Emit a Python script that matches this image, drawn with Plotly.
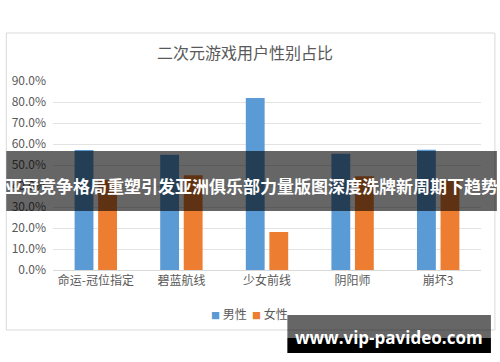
import plotly.graph_objects as go

categories = ["命运-冠位指定", "碧蓝航线", "少女前线", "阴阳师", "崩坏3"]
male = [0.572, 0.549, 0.819, 0.553, 0.573]
female = [0.428, 0.451, 0.181, 0.447, 0.427]
series_names = ["男性", "女性"]
series_colors = ["#5b9bd5", "#ed7d31"]
y_ticks = [0, 0.1, 0.2, 0.3, 0.4, 0.5, 0.6, 0.7, 0.8, 0.9]
title_text = "二次元游戏用户性别占比"
banner_text = "亚冠竞争格局重塑引发亚洲俱乐部力量版图深度洗牌新周期下趋势"
watermark_text = "www.vip-pavideo.com"

W, H = 500, 362
L, R, T, B = 50, 481, 81, 270
FONT = "Noto Sans CJK SC"
GRAY = "#595959"

def px(x):
    return (x - L) / (R - L)

def py(y):
    return (B - y) / (B - T)

fig = go.Figure()
fig.add_trace(go.Bar(x=categories, y=male, name=series_names[0],
                     marker=dict(color=series_colors[0], line=dict(width=0))))
fig.add_trace(go.Bar(x=categories, y=female, name=series_names[1],
                     marker=dict(color=series_colors[1], line=dict(width=0))))

shapes = [
    # chart frame
    dict(type="rect", xref="paper", yref="paper", x0=px(3), x1=px(495), y0=py(330), y1=py(33),
         line=dict(color="#d9d9d9", width=1), fillcolor="white", layer="below"),
    # banner
    dict(type="rect", xref="paper", yref="paper", x0=px(3), x1=px(497), y0=py(211), y1=py(151),
         line=dict(width=0), fillcolor="rgba(0,0,0,0.6)", layer="above"),
    # watermark box
    dict(type="rect", xref="paper", yref="paper", x0=px(286), x1=px(491), y0=py(338), y1=py(315),
         line=dict(width=0), fillcolor="rgba(0,0,0,0.6)", layer="above"),
    dict(type="rect", xref="paper", yref="paper", x0=px(286), x1=px(491), y0=py(353), y1=py(338),
         line=dict(width=0), fillcolor="black", layer="above"),
]

legend_html = "  ".join(
    '<span style="color:%s;font-size:9px">■</span> %s' % (c, n)
    for c, n in zip(series_colors, series_names)
)

annotations = [
    dict(text=title_text, xref="paper", yref="paper", x=px(243), y=py(52), showarrow=False,
         xanchor="center", yanchor="middle", font=dict(family=FONT, size=16, color=GRAY)),
    dict(text=legend_html, xref="paper", yref="paper", x=px(248), y=py(313), showarrow=False,
         xanchor="center", yanchor="middle", font=dict(family=FONT, size=12, color=GRAY)),
    dict(text="<b>" + banner_text + "</b>", xref="paper", yref="paper", x=px(250), y=py(185),
         showarrow=False, xanchor="center", yanchor="middle",
         font=dict(family=FONT, size=17, color="white")),
    dict(text="<b>" + watermark_text + "</b>", xref="paper", yref="paper", x=px(388), y=py(337),
         showarrow=False, xanchor="center", yanchor="middle",
         font=dict(family="Open Sans", size=17, color="white")),
]

fig.update_layout(
    width=W, height=H,
    margin=dict(l=L, r=W - R, t=T, b=H - B),
    paper_bgcolor="white", plot_bgcolor="white",
    barmode="group", bargap=0.45, bargroupgap=0.2,
    font=dict(family=FONT, size=12, color=GRAY),
    showlegend=False,
    shapes=shapes, annotations=annotations,
    xaxis=dict(showgrid=False, showline=True, linecolor="#d9d9d9", linewidth=1,
               ticks="", tickfont=dict(family=FONT, size=12, color=GRAY)),
    yaxis=dict(range=[0, 0.9], tickvals=y_ticks, tickformat=".1%", showgrid=True,
               gridcolor="#e3e3e3", gridwidth=1, zeroline=False, showline=False,
               ticks="", ticklabelstandoff=6,
               tickfont=dict(family=FONT, size=12, color=GRAY)),
)

fig.write_html("out.html")
